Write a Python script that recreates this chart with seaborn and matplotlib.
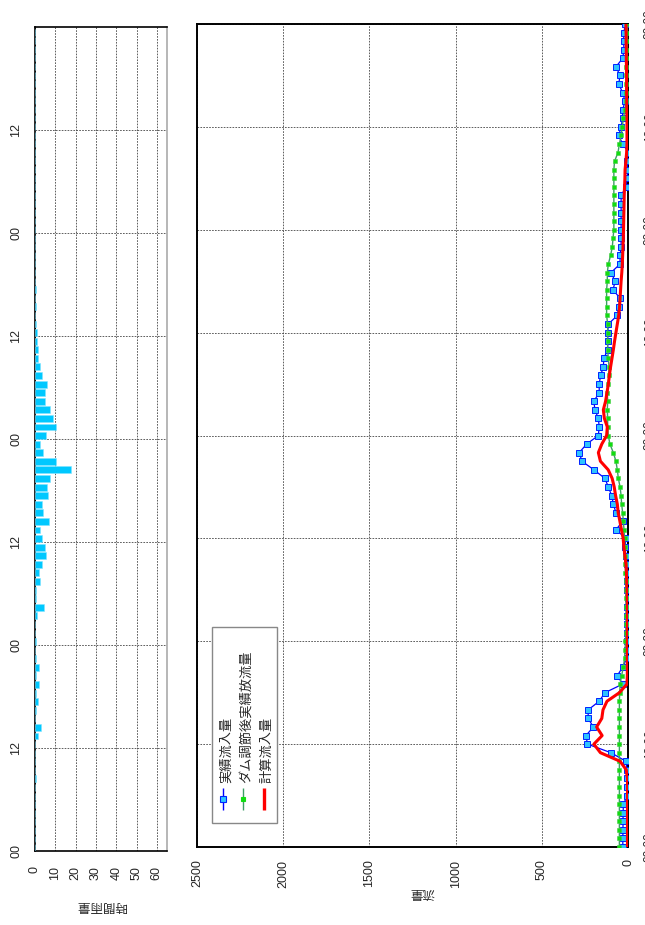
import numpy as np
import pandas as pd
import seaborn as sns
import matplotlib.pyplot as plt
from matplotlib.patches import Rectangle

sns.set_style('white')
plt.rcParams['font.family'] = ['Liberation Sans', 'Noto Sans CJK JP']

# hourly data, hour 0 .. 96 (4 days)
hours = list(range(97))
rain_hours = list(range(96))
rain_mm = [0, 0, 0, 0, 0, 0, 0, 0, 0.3, 0,
           0, 0, 0, 1.6, 2.9, 0.2, 0.3, 1.3, 0.3, 2.0,
           0.5, 2.0, 0.6, 0, 0.3, 0, 0, 1.0, 4.2, 0.6,
           0.5, 2.3, 2.1, 3.3, 5.2, 4.9, 3.6, 2.6, 6.9, 3.9,
           3.6, 6.5, 6.0, 7.4, 17.6, 10.5, 3.9, 2.3, 5.2, 10.5,
           8.7, 7.5, 4.9, 4.8, 6.0, 3.6, 2.6, 1.3, 1.3, 1.0,
           1.0, 0.6, 0, 0.3, 0, 0.3, 0, 0, 0, 0,
           0, 0, 0, 0, 0, 0, 0, 0, 0, 0,
           0, 0, 0, 0, 0, 0, 0, 0, 0, 0,
           0, 0, 0, 0, 0, 0]

inflow = [30, 30, 29, 29, 28, 27, 3, 3, 4, 5,
          12, 99, 235, 244, 201, 231, 231, 167, 134, 31,
          62, 30, 8, 6, 5, 5, 4, 3, 3, 2,
          3, 5, 0, 5, 12, 17, 12, 70, 31, 70,
          85, 95, 114, 134, 198, 267, 283, 240, 172, 167,
          172, 192, 198, 167, 167, 159, 143, 140, 118, 118,
          118, 114, 62, 54, 46, 87, 74, 99, 46, 46,
          40, 40, 40, 40, 40, 40, 40, 12, 5, 0,
          5, -4, 31, 54, 40, 31, 31, 17, 31, 54,
          46, 70, 31, 23, 26, 23, 17]

outflow = [50, 50, 50, 50, 50, 50, 50, 50, 50, 50,
           50, 50, 50, 50, 50, 50, 50, 50, 48, 46,
           37, 27, 20, 17, 15, 13, 12, 12, 12, 12,
           13, 14, 15, 15, 16, 18, 20, 23, 27, 31,
           37, 40, 46, 56, 62, 70, 85, 105, 114, 118,
           118, 120, 118, 120, 114, 112, 110, 114, 118, 118,
           118, 118, 124, 124, 124, 124, 120, 120, 114, 101,
           91, 87, 82, 82, 82, 82, 82, 82, 82, 82,
           78, 58, 50, 40, 33, 27, 17, 12, 12, 12,
           12, 12, 3, 2, 2, 2, 2]

calc_inflow = [3, 3, 3, 3, 3, 3, 3, 3, 3, 10,
               46, 160, 198, 150, 182, 152, 145, 122, 50, 6,
               4, 4, 4, 4, 4, 4, 3, 3, 3, 4,
               5, 7, 9, 12, 18, 24, 28, 38, 47, 57,
               62, 72, 80, 92, 115, 160, 172, 152, 124, 120,
               137, 143, 130, 122, 114, 108, 101, 93, 85, 78,
               70, 62, 54, 49, 46, 43, 40, 36, 33, 31,
               29, 27, 26, 25, 24, 23, 22, 20, 18, 17,
               12, 8, 6, 6, 6, 6, 7, 7, 8, 8,
               8, 9, 10, 10, 11, 11, 12]

series_names = ['実績流入量', 'ダム調節後実績放流量', '計算流入量']
time_ticks = [0, 12, 24, 36, 48, 60, 72, 84]
time_labels = ['00', '12', '00', '12', '00', '12', '00', '12']
date_ticks = [0, 12, 24, 36, 48, 60, 72, 84, 96]
date_labels = ['00:00', '12:00', '00:00', '12:00', '00:00', '12:00', '00:00', '12:00', '00:00']
rain_ticks = [0, 10, 20, 30, 40, 50, 60]
flow_ticks = [0, 500, 1000, 1500, 2000, 2500]

df = pd.DataFrame({'hour': hours, 'inflow': inflow, 'outflow': outflow, 'calc': calc_inflow})

W, H = 645, 925
fig = plt.figure(figsize=(W / 100, H / 100), dpi=100)
ax_r = fig.add_axes([35 / W, 74 / H, 132 / W, 824 / H])
ax_q = fig.add_axes([197 / W, 78 / H, 431 / W, 823 / H])

grid_kw = dict(color='#444444', linestyle=(0, (2, 1.5)), linewidth=0.6)

# rainfall panel (time runs bottom -> top)
ax_r.barh(rain_hours, rain_mm, height=0.8, align='edge', color='#00C8FF',
          edgecolor='#80E4FF', linewidth=0.4, zorder=3)
ax_r.set_xlim(0, 65)
ax_r.set_ylim(0, 96)
ax_r.set_xticks(rain_ticks)
ax_r.set_xticklabels([str(t) for t in rain_ticks], rotation=90, fontsize=9)
ax_r.set_yticks(time_ticks)
ax_r.set_yticklabels(time_labels, rotation=90, va='center', fontsize=9)
ax_r.tick_params(axis='both', length=0)
ax_r.tick_params(axis='x', pad=11)
ax_r.tick_params(axis='y', pad=9)
ax_r.grid(True, **grid_kw)
ax_r.set_axisbelow(True)
for side in ['left', 'top', 'bottom']:
    ax_r.spines[side].set_color('black')
    ax_r.spines[side].set_linewidth(1.2)
ax_r.spines['right'].set_color('#aaaaaa')
ax_r.spines['right'].set_linewidth(1.2)
ax_r.set_xlabel('時間雨量', rotation=180, fontsize=9)
ax_r.xaxis.set_label_coords(0.5, -0.066)
ax_r.xaxis.label.set_va('center')

# discharge panel
sns.lineplot(data=df, x='inflow', y='hour', orient='y', sort=False, estimator=None,
             ax=ax_q, color='#0000FF', linewidth=0.9, marker='s', markersize=4.3,
             markerfacecolor='#2EC4FF', markeredgecolor='#0022FF', markeredgewidth=0.7,
             zorder=4)
sns.lineplot(data=df, x='outflow', y='hour', orient='y', sort=False, estimator=None,
             ax=ax_q, color='#3E9E66', linewidth=1.0, marker='s', markersize=3.0,
             markerfacecolor='#11DD11', markeredgecolor='#44CC44', markeredgewidth=0.4,
             zorder=5)
sns.lineplot(data=df, x='calc', y='hour', orient='y', sort=False, estimator=None,
             ax=ax_q, color='#FF0000', linewidth=2.2, zorder=6)

ax_q.set_xlim(2500, 0)
ax_q.set_ylim(0, 96)
ax_q.set_xticks(flow_ticks)
ax_q.set_xticklabels([str(t) for t in flow_ticks], rotation=90, fontsize=9)
ax_q.yaxis.tick_right()
ax_q.set_yticks(date_ticks)
ax_q.set_yticklabels(date_labels, rotation=90, va='center', fontsize=8.5)
ax_q.tick_params(axis='both', length=0)
ax_q.tick_params(axis='x', pad=9)
ax_q.tick_params(axis='y', pad=11.5)
ax_q.grid(True, **grid_kw)
ax_q.set_axisbelow(True)
for side in ax_q.spines.values():
    side.set_color('black')
    side.set_linewidth(1.4)
ax_q.set_xlabel('流量', rotation=180, fontsize=9)
ax_q.xaxis.set_label_coords(0.522, -0.055)
ax_q.xaxis.label.set_va('center')
ax_q.set_ylabel('')

# legend, drawn in the rotated frame
ax_q.add_patch(Rectangle((0.035, 0.029), 0.151, 0.238, transform=ax_q.transAxes,
                         facecolor='white', edgecolor='#888888', linewidth=1.0, zorder=7))
legend_style = [
    dict(color='#0000FF', lw=1.0, marker='s', ms=4.5, mfc='#2EC4FF', mec='#0022FF'),
    dict(color='#3E9E66', lw=1.0, marker='s', ms=3.5, mfc='#11DD11', mec='#11DD11'),
    dict(color='#FF0000', lw=2.4, marker=None, ms=0, mfc='none', mec='none'),
]
legend_x = [0.06, 0.107, 0.156]
for name, lx, st in zip(series_names, legend_x, legend_style):
    ax_q.plot([lx, lx], [0.045, 0.072], transform=ax_q.transAxes, color=st['color'],
              lw=st['lw'], zorder=8, solid_capstyle='butt')
    if st['marker']:
        ax_q.plot([lx], [0.0585], transform=ax_q.transAxes, marker=st['marker'],
                  ms=st['ms'], mfc=st['mfc'], mec=st['mec'], mew=0.8, zorder=9)
    ax_q.text(lx + 0.008, 0.078, name, transform=ax_q.transAxes, rotation=90,
              ha='center', va='bottom', fontsize=9.5, zorder=9)

fig.savefig('out.png', dpi=100)
